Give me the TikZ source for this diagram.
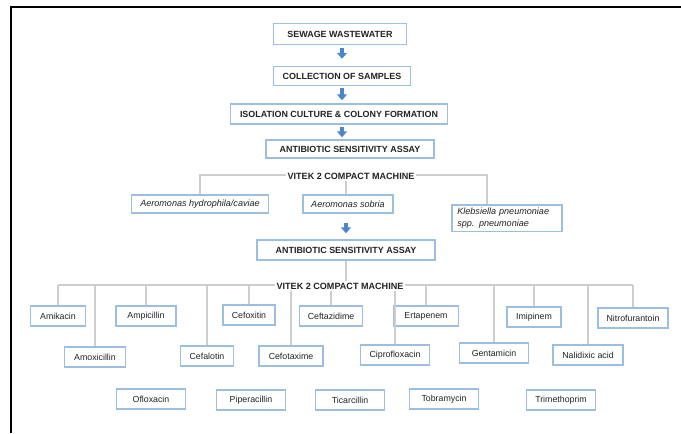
\documentclass[tikz,border=0pt]{standalone}
\usepackage{fontspec}
\setmainfont{Liberation Sans}
\usetikzlibrary{arrows.meta}
\definecolor{boxblue}{RGB}{155,190,225}
\definecolor{flowblue}{RGB}{75,135,200}
\definecolor{linkgray}{RGB}{205,205,205}
\definecolor{txtgray}{RGB}{35,35,35}

\begin{document}
\begin{tikzpicture}[x=0.75pt,y=0.75pt,yscale=-1,xscale=1,
  stagebox/.style={draw=boxblue,line width=1.1pt,fill=white,inner sep=0pt,minimum height=15pt,font=\fontsize{6.7}{8}\selectfont\bfseries,text=txtgray},
  strainbox/.style={draw=boxblue,line width=1.1pt,fill=white,inner sep=0pt,minimum height=13.5pt,font=\fontsize{6.8}{8.5}\selectfont\itshape,text=txtgray},
  drugbox/.style={draw=boxblue,line width=1.1pt,fill=white,inner sep=0pt,minimum height=15pt,font=\fontsize{6.6}{8}\selectfont,text=txtgray},
  machine/.style={fill=white,inner sep=1pt,font=\fontsize{6.8}{8}\selectfont\bfseries,text=txtgray},
  link/.style={draw=linkgray,line width=1.1pt},
  flow/.style={draw=flowblue,line width=3.4pt,-{Triangle[width=7.5pt,length=4.5pt]}}
]
\useasboundingbox (0,0) rectangle (681,433);

%Shape: Frame
\draw [line width=1.5pt]  (11,433) -- (11,7) -- (681,7) ;

% Stage Nodes
\node [stagebox,minimum width=99.75pt,minimum height=15.75pt] (sewage) at (340,34) {SEWAGE WASTEWATER};
\node [stagebox,minimum width=102.75pt,minimum height=14.25pt] (collect) at (342,76) {COLLECTION OF SAMPLES};
\node [stagebox,minimum width=162.75pt] (isolate) at (339,114) {ISOLATION CULTURE \& COLONY FORMATION};
\node [stagebox,minimum width=126pt,minimum height=13.5pt] (assay1) at (350,149) {ANTIBIOTIC SENSITIVITY ASSAY};

% Strain Nodes
\node [strainbox,minimum width=102.75pt] (hydro) at (200,204) {Aeromonas hydrophila/caviae};
\node [strainbox,minimum width=67.5pt] (sobria) at (348,204) {Aeromonas sobria};
\node [strainbox,text width=74.5pt,inner xsep=4pt,inner ysep=2.5pt,align=left] (kleb) at (507,218) {Klebsiella pneumoniae\\spp. pneumoniae};

\node [stagebox,minimum width=133.5pt] (assay2) at (346,250) {ANTIBIOTIC SENSITIVITY ASSAY};

% Drug Nodes, first row
\node [drugbox,minimum width=41.25pt] (amik) at (58,316) {Amikacin};
\node [drugbox,minimum width=45pt] (ampi) at (146,316) {Ampicillin};
\node [drugbox,minimum width=39pt] (cefox) at (249,315) {Cefoxitin};
\node [drugbox,minimum width=47.25pt] (ceftaz) at (331,316) {Ceftazidime};
\node [drugbox,minimum width=48.75pt] (erta) at (426,316) {Ertapenem};
\node [drugbox,minimum width=40.5pt] (imip) at (534,317) {Imipinem};
\node [drugbox,minimum width=52.5pt] (nitro) at (633,318) {Nitrofurantoin};
% Drug Nodes, second row
\node [drugbox,minimum width=45.75pt] (amox) at (95,357) {Amoxicillin};
\node [drugbox,minimum width=39.75pt] (cefal) at (207,356) {Cefalotin};
\node [drugbox,minimum width=48pt] (cefot) at (291,356) {Cefotaxime};
\node [drugbox,minimum width=51.75pt] (cipro) at (395,355) {Ciprofloxacin};
\node [drugbox,minimum width=51.75pt] (genta) at (494,353) {Gentamicin};
\node [drugbox,minimum width=52.5pt] (nalid) at (588,355) {Nalidixic acid};
% Drug Nodes, third row
\node [drugbox,minimum width=51.75pt] (oflox) at (151,399) {Ofloxacin};
\node [drugbox,minimum width=51.75pt] (pipe) at (251,400) {Piperacillin};
\node [drugbox,minimum width=51.75pt] (tica) at (350,400) {Ticarcillin};
\node [drugbox,minimum width=51.75pt] (tobra) at (444,399) {Tobramycin};
\node [drugbox,minimum width=51.75pt] (trime) at (561,400) {Trimethoprim};

% Block Arrows
\draw [flow,shorten <=2.25pt,shorten >=5.25pt] (sewage.south -| collect) -- (collect.north) ;
\draw [flow,shorten <=1.5pt,shorten >=2.25pt] (collect.south) -- (collect.south |- isolate.north) ;
\draw [flow,shorten <=1.5pt,shorten >=1.5pt] (isolate.south -| collect) -- (assay1.north -| collect) ;
\draw [flow,shorten <=6.75pt,shorten >=4.5pt] (sobria.south -| assay2) -- (assay2.north) ;

%Straight Lines: first tree
\coordinate (klebdrop) at (487,175);
\draw [link] (hydro.north) -- (hydro.north |- klebdrop) -- (klebdrop) -- (klebdrop |- kleb.north) ;
\draw [link] (sobria.north -| assay2) -- (klebdrop -| assay2) ;

%Straight Lines: second tree
\coordinate (bus2) at (0,285);
\draw [link] (amik.north |- bus2) -- (nitro.north |- bus2) ;
\draw [link] (assay2.south) -- (assay2.south |- bus2) ;
\foreach \drug in {amik,ampi,cefox,ceftaz,erta,imip,nitro,amox,cefal,cefot,cipro,genta,nalid}
  \draw [link] (\drug.north) -- (\drug.north |- bus2) ;

% Text Node
\node [machine] (vitek1) at (351,176) {VITEK 2 COMPACT MACHINE};
% Text Node
\node [machine] (vitek2) at (340,286) {VITEK 2 COMPACT MACHINE};
\end{tikzpicture}
\end{document}
